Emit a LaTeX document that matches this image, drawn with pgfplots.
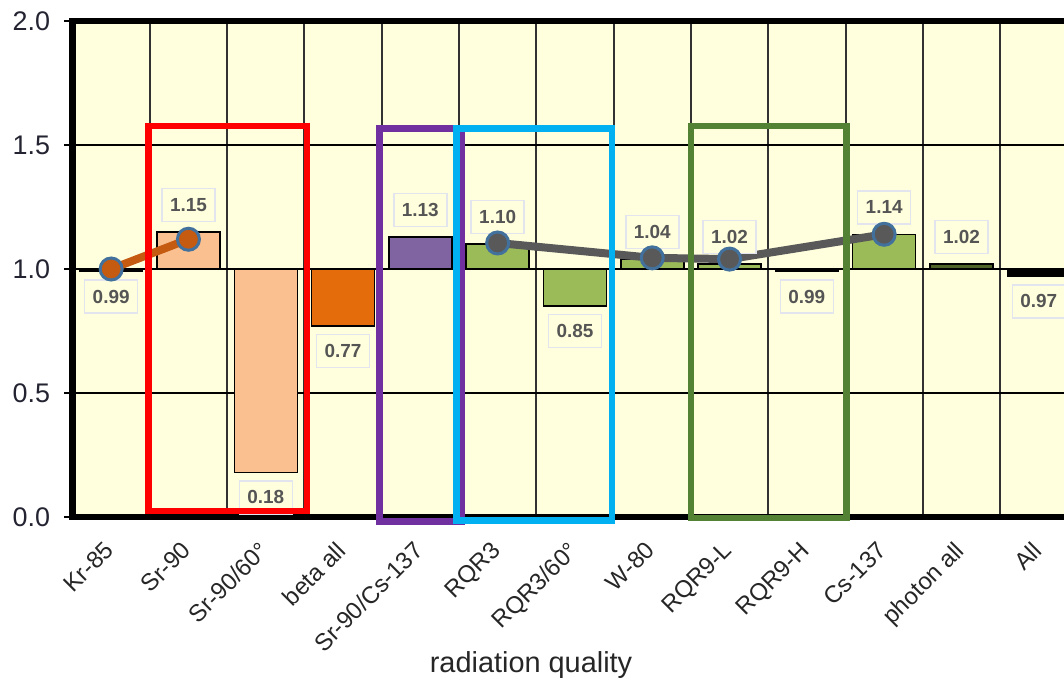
\documentclass[border=0pt]{standalone}
\usepackage{pgfplots}
\pgfplotsset{compat=1.18}
\usepackage{fontspec}
\setmainfont{Liberation Sans}

\definecolor{plotbg}{RGB}{255,255,221}
\definecolor{peach}{RGB}{250,192,144}
\definecolor{betaor}{RGB}{228,108,10}
\definecolor{mixpur}{RGB}{128,100,162}
\definecolor{photgr}{RGB}{155,187,89}
\definecolor{dkgreen}{RGB}{79,98,40}
\definecolor{lineor}{RGB}{197,90,17}
\definecolor{linegray}{RGB}{89,89,89}
\definecolor{markrim}{RGB}{65,113,156}
\definecolor{lbltext}{RGB}{85,85,85}
\definecolor{lblframe}{RGB}{226,229,238}
\definecolor{gridcol}{RGB}{50,50,50}
\definecolor{ticktext}{RGB}{35,35,50}
\definecolor{boxred}{RGB}{255,0,0}
\definecolor{boxpur}{RGB}{112,48,160}
\definecolor{boxcyan}{RGB}{0,176,240}
\definecolor{boxgreen}{RGB}{84,130,53}

\pgfplotsset{
  barbase/.style={ybar, bar width=63bp, bar shift=0pt, draw=black, line width=1.5bp},
  lbl/.style={
    point meta=rawy,
    nodes near coords={\pgfmathprintnumber[fixed,fixed zerofill,precision=2]{\pgfplotspointmeta}},
    every node near coord/.append style={anchor=center, font=\fontsize{19}{21}\selectfont\bfseries,
      text=lbltext, fill=plotbg, draw=lblframe, line width=1.5bp,
      minimum width=53bp, minimum height=33bp, inner sep=0pt}},
  lblup/.style={lbl, every node near coord/.append style={yshift=27bp}},
  lbldn/.style={lbl, every node near coord/.append style={yshift=-25bp}},
  ratioline/.style={line width=8bp, mark=*, mark size=11bp,
    mark options={line width=3bp, draw=markrim, fill=#1}, color=#1},
}

\begin{document}
\begin{tikzpicture}
\path[use as bounding box] (0bp,0bp) rectangle (1064bp,-680bp);
\clip (0bp,0bp) rectangle (1064bp,-680bp);
\begin{axis}[
  at={(72.5bp,-517bp)}, anchor=south west,
  width=1004.9bp, height=496bp, scale only axis,
  xmin=-0.5, xmax=12.5, ymin=-1, ymax=1,
  % bars hang from the ratio 1.0
  y filter/.expression={y-1},
  /pgf/number format/assume math mode=true,
  axis background/.style={fill=plotbg},
  axis line style={line width=6bp},
  ytick={-1,-0.5,0,0.5,1}, yticklabels={0.0,0.5,1.0,1.5,2.0},
  xtick={0,...,12},
  xticklabels={Kr-85,Sr-90,Sr-90/60°,beta all,Sr-90/Cs-137,RQR3,RQR3/60°,W-80,RQR9-L,RQR9-H,Cs-137,photon all,All},
  minor xtick={0.5,1.5,...,11.5},
  xmajorgrids=false, xminorgrids=true, ymajorgrids=true,
  minor x grid style={gridcol, line width=2bp},
  major y grid style={black, line width=1.8bp},
  tick align=outside, major tick length=8bp, minor tick length=0pt,
  xtick style={draw=none},
  ytick style={black, line width=1.5bp},
  yticklabel style={font=\fontsize{27}{30}\selectfont, text=ticktext, xshift=-11bp},
  xticklabel style={xshift=-8bp, yshift=-15bp, font=\fontsize{24}{28}\selectfont,
    text=black!85, rotate=45, anchor=north east, inner sep=0pt},
  xlabel={radiation quality},
  xlabel style={font=\fontsize{29}{32}\selectfont, text=black!85,
    at={(rel axis cs:0.4563,0)}, anchor=center, yshift=-148bp},
]
% deviations from unity, one colour group per plot
\addplot[barbase, fill=black, lbldn] coordinates {(0,0.99)};
\addplot[barbase, fill=peach, lblup] coordinates {(1,1.15)};
\addplot[barbase, fill=peach, lbldn] coordinates {(2,0.18)};
\addplot[barbase, fill=betaor, lbldn] coordinates {(3,0.77)};
\addplot[barbase, fill=mixpur, lblup] coordinates {(4,1.13)};
\addplot[barbase, fill=photgr, lblup] coordinates {(5,1.10) (7,1.04) (8,1.02) (10,1.14)};
\addplot[barbase, fill=photgr, lbldn] coordinates {(6,0.85)};
\addplot[barbase, fill=black, lbldn] coordinates {(9,0.99)};
\addplot[barbase, fill=dkgreen, lblup] coordinates {(11,1.02)};
\addplot[barbase, fill=black, lbldn] coordinates {(12,0.97)};
% beta and photon trend lines
\addplot[ratioline=lineor] coordinates {(0,1.00) (1,1.12)};
\addplot[ratioline=linegray] coordinates {(5,1.105) (7,1.045) (8,1.04) (10,1.14)};
\end{axis}
% group frames
\draw[boxred, line width=6.5bp] (148.5bp,-126bp) rectangle (307bp,-511bp);
\draw[boxpur, line width=6.5bp] (379.5bp,-128.7bp) rectangle (462bp,-521.5bp);
\draw[boxcyan, line width=6.5bp] (456.5bp,-128.7bp) rectangle (612bp,-520.5bp);
\draw[boxgreen, line width=6.5bp] (691bp,-126bp) rectangle (846.5bp,-518bp);
\end{tikzpicture}
\end{document}
